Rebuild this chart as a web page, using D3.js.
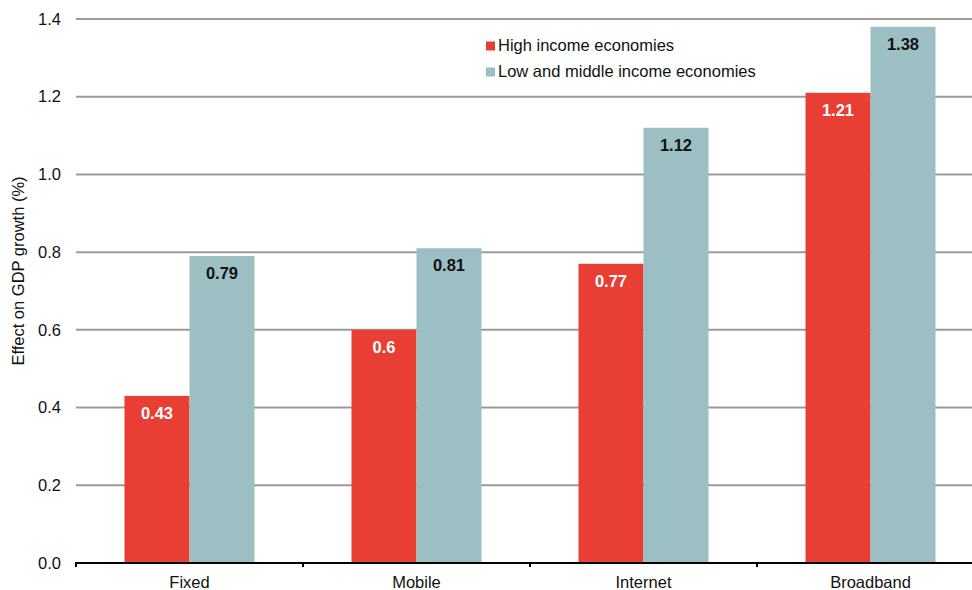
<!DOCTYPE html>
<html>
<head>
<meta charset="utf-8">
<script src="https://cdn.jsdelivr.net/npm/d3@7"></script>
<style>
  body { margin: 0; background: #fff; }
  text { font-family: "Liberation Sans", Arial, sans-serif; }
</style>
</head>
<body>
<svg id="chart" width="972" height="590"></svg>
<script>
// Effect of broadband and ICT penetration on GDP growth
const categories = ["Fixed", "Mobile", "Internet", "Broadband"];
const seriesNames = ["High income economies", "Low and middle income economies"];
const highIncome = [0.43, 0.6, 0.77, 1.21];
const lowMiddleIncome = [0.79, 0.81, 1.12, 1.38];
const yTicks = [0, 0.2, 0.4, 0.6, 0.8, 1.0, 1.2, 1.4];
const colors = ["#e83e33", "#9bbfc2"];
const labelColors = ["#ffffff", "#111111"];

const svg = d3.select("#chart");
const width = 972;
const left = 76;
const fs = 16.5;

// category bands continue past the right edge of the frame
const x = d3.scaleBand().domain(categories).range([left, left + 4 * 227]).padding(0);
const y = d3.scaleLinear().domain([0, 1.4]).range([563, 19]);

// gridlines
svg.append("g").selectAll("line").data(yTicks.filter(d => d > 0)).join("line")
  .attr("x1", left).attr("x2", width)
  .attr("y1", d => y(d)).attr("y2", d => y(d))
  .attr("stroke", "#9a9a9a").attr("stroke-width", 2);

// y tick labels
svg.append("g").selectAll("text").data(yTicks).join("text")
  .attr("x", 61).attr("y", d => y(d)).attr("dy", "0.35em")
  .attr("text-anchor", "end").attr("font-size", fs).attr("fill", "#111")
  .text(d => d3.format(".1f")(d));

// y axis title
svg.append("text")
  .attr("transform", `translate(24,${(19 + 563) / 2 - 20}) rotate(-90)`)
  .attr("text-anchor", "middle").attr("font-size", 16.5).attr("fill", "#111")
  .text("Effect on GDP growth (%)");

// bars
const barW = 65;
const data = categories.map((c, i) => ({ c, vals: [highIncome[i], lowMiddleIncome[i]] }));
const groups = svg.append("g").selectAll("g").data(data).join("g");
groups.each(function (d) {
  const g = d3.select(this);
  const cx = x(d.c) + x.bandwidth() / 2;
  d.vals.forEach((v, s) => {
    const bx = cx - barW + s * barW;
    g.append("rect")
      .attr("x", bx).attr("y", y(v))
      .attr("width", barW).attr("height", y(0) - y(v))
      .attr("fill", colors[s]);
    g.append("text")
      .attr("x", bx + barW / 2).attr("y", y(v) + 23)
      .attr("text-anchor", "middle").attr("font-size", fs).attr("font-weight", "bold")
      .attr("fill", labelColors[s])
      .text(v);
  });
});

// x axis baseline and ticks
const xAxis = svg.append("g");
xAxis.append("line").attr("x1", left - 1).attr("x2", width)
  .attr("y1", y(0)).attr("y2", y(0)).attr("stroke", "#000").attr("stroke-width", 2);
const boundaries = categories.map(c => x(c));
xAxis.selectAll("line.tick").data(boundaries).join("line").attr("class", "tick")
  .attr("x1", d => d).attr("x2", d => d)
  .attr("y1", y(0)).attr("y2", y(0) + 4)
  .attr("stroke", "#000").attr("stroke-width", 2);
xAxis.selectAll("text").data(categories).join("text")
  .attr("x", d => x(d) + x.bandwidth() / 2).attr("y", 588)
  .attr("text-anchor", "middle").attr("font-size", fs).attr("fill", "#111")
  .text(d => d);

// legend
const legend = svg.append("g").attr("transform", "translate(486,39)");
seriesNames.forEach((n, i) => {
  const row = legend.append("g").attr("transform", `translate(0,${i * 26})`);
  row.append("rect").attr("width", 9).attr("height", 9).attr("y", 2.5).attr("fill", colors[i]);
  row.append("text").attr("x", 12).attr("y", 12).attr("font-size", fs).attr("fill", "#111").text(n);
});
</script>
</body>
</html>
